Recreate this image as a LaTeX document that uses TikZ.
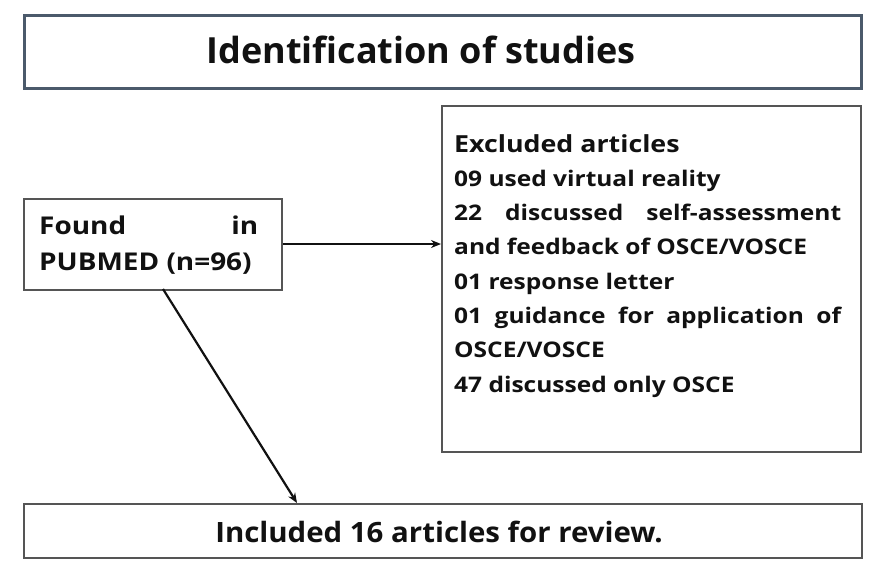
\documentclass[tikz,border=0pt]{standalone}
\usepackage{fontspec}
\setmainfont{Open Sans}
\newfontfamily\inclfont{Open Sans}[FakeStretch=1.05]
\newfontfamily\widefont{Open Sans}[FakeStretch=1.14]
\usetikzlibrary{arrows.meta}
\definecolor{slate}{HTML}{4B5A6B}
\definecolor{boxgray}{HTML}{555555}
\definecolor{ink}{HTML}{111111}
\tikzset{
  boxshape/.style={draw=boxgray, line width=2pt, fill=white, inner sep=0pt, anchor=north west},
  titlebox/.style={boxshape, draw=slate, line width=2.6pt},
  txt/.style={inner sep=0pt, text=ink, font=\bfseries},
  conn/.style={draw=ink, line width=2.2pt, -{Stealth[length=10pt,width=8pt]}}
}
\begin{document}
\begin{tikzpicture}[x=1pt,y=-1pt]
\useasboundingbox (0,0) rectangle (869,565);
% boxes
\node[titlebox, minimum width=837pt, minimum height=73pt] (top) at (23,14) {};
\node[boxshape, minimum width=258pt, minimum height=91pt] (found) at (23,198) {};
\node[boxshape, minimum width=419pt, minimum height=346pt] (excl) at (441,105) {};
\node[boxshape, minimum width=838pt, minimum height=54pt] (incl) at (23,503) {};
% texts
\node[txt, anchor=base, font=\bfseries\fontsize{36}{40}\selectfont] (toptxt) at (421,63) {Identification of studies};
\node[txt, anchor=base west] (foundtxt) at (39,234) {\parbox[t]{219pt}{\widefont\bfseries\fontsize{24.5}{36}\selectfont
\makebox[\linewidth][s]{Found \hfill in}\\
PUBMED (n=96)}};
\node[txt, anchor=base west] (excltxt) at (454,152) {\parbox[t]{387pt}{\widefont\bfseries\fontsize{21.5}{34.3}\selectfont
{\fontsize{23.5}{34.3}\selectfont Excluded articles}\\
09 used virtual reality\\
\makebox[\linewidth][s]{22 discussed self-assessment}\\
and feedback of OSCE/VOSCE\\
01 response letter\\
\makebox[\linewidth][s]{01 guidance for application of}\\
OSCE/VOSCE\\
47 discussed only OSCE}};
\node[txt, anchor=base, font=\inclfont\bfseries\fontsize{28}{32}\selectfont] (incltxt) at (439,542) {Included 16 articles for review.};
% connectors
\coordinate (fr) at (found.east |- 0,244);
\draw[conn] (fr) -- (excl.west |- fr);
\coordinate (fb) at (163,289);
\draw[conn] (fb) -- (297,503);
\end{tikzpicture}
\end{document}
